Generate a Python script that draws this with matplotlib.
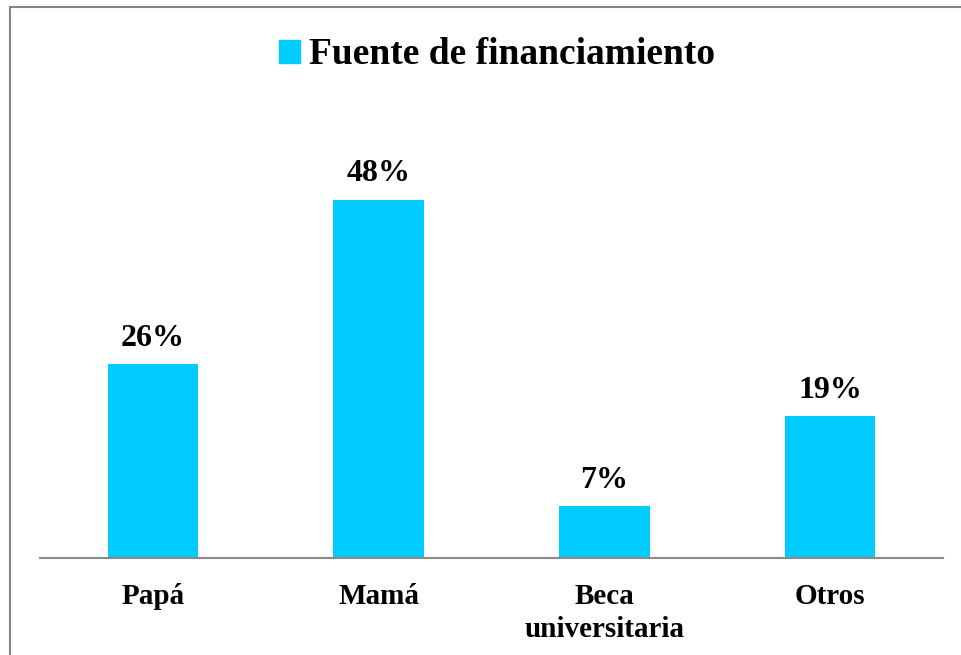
import matplotlib.pyplot as plt
from matplotlib.patches import Rectangle, Patch

categories = ["Papá", "Mamá", "Beca\nuniversitaria", "Otros"]
values = [26, 48, 7, 19]
labels = ["26%", "48%", "7%", "19%"]
series_name = "Fuente de financiamiento"

color = "#00CCFF"
plt.rcParams['font.family'] = ['Liberation Serif', 'DejaVu Serif']

fig = plt.figure(figsize=(9.61, 6.55), dpi=100)
ax = fig.add_axes([40/961, 97/655, 903/961, 448/655])

x = range(len(categories))
bars = ax.bar(x, values, width=0.4, color=color)
for b, lab in zip(bars, labels):
    ax.text(b.get_x() + b.get_width()/2, b.get_height() + 1.5, lab,
            ha='center', va='bottom', fontsize=23, fontweight='bold')

ax.set_xlim(-0.5, 3.5)
ax.set_ylim(0, 60)
ax.set_yticks([])
ax.set_xticks(list(x))
ax.set_xticklabels(categories, fontsize=21, fontweight='bold', linespacing=1.3)
ax.tick_params(axis='x', length=0, pad=18)
for s in ['top', 'right', 'left']:
    ax.spines[s].set_visible(False)
ax.spines['bottom'].set_color('#898989')
ax.spines['bottom'].set_linewidth(1.5)

# outer border of the chart area
fig.patches.append(Rectangle((10/961, -0.05), 1.0, 1 - 7/655 + 0.05,
                             transform=fig.transFigure, fill=False,
                             edgecolor='#868686', linewidth=1.5))

fig.legend(handles=[Patch(color=color, label=series_name)], loc='center',
           bbox_to_anchor=(497/961, 1 - 55/655), frameon=False,
           prop={'size': 27, 'weight': 'bold'}, handlelength=0.55,
           handleheight=0.55, handletextpad=0.25)

fig.savefig("out.png", dpi=100)
